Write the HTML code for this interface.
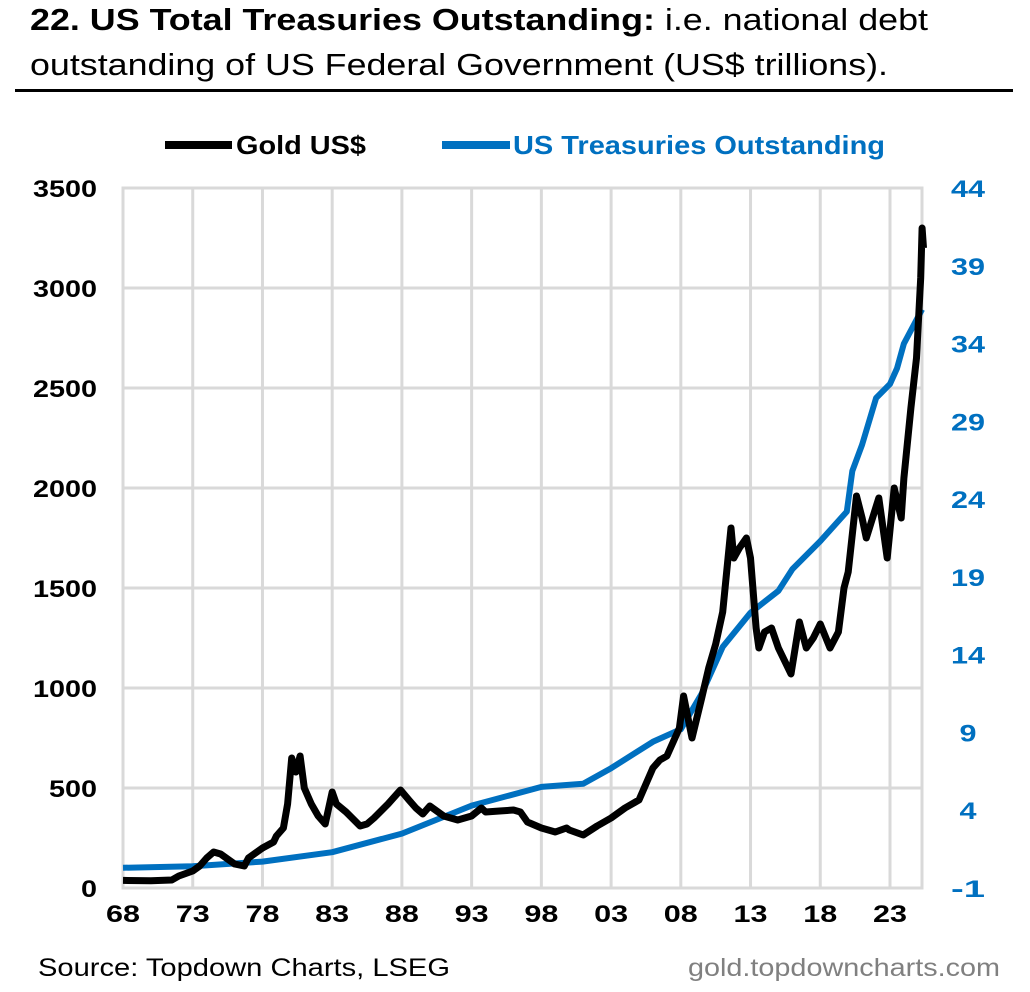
<!DOCTYPE html>
<html><head><meta charset="utf-8"><style>
body{margin:0;background:#fff;width:1030px;height:987px;overflow:hidden;font-family:"Liberation Sans",sans-serif;}
</style></head><body>
<svg id="c" width="1030" height="987" xmlns="http://www.w3.org/2000/svg">
<text x="30" y="30" font-size="31" textLength="898" lengthAdjust="spacingAndGlyphs"><tspan font-weight="bold">22. US Total Treasuries Outstanding:</tspan> i.e. national debt</text>
<text x="30" y="75" font-size="31" textLength="858" lengthAdjust="spacingAndGlyphs">outstanding of US Federal Government (US$ trillions).</text>
<rect x="15" y="89" width="998" height="3" fill="#000"/>
<g>
<line x1="165" y1="145" x2="232" y2="145" stroke="#000" stroke-width="8"/>
<text x="236" y="154" font-size="26" font-weight="bold" textLength="130" lengthAdjust="spacingAndGlyphs">Gold US$</text>
<line x1="442" y1="145" x2="510" y2="145" stroke="#0070c0" stroke-width="8"/>
<text x="513" y="154" font-size="26" font-weight="bold" fill="#0070c0" textLength="372" lengthAdjust="spacingAndGlyphs">US Treasuries Outstanding</text>
</g>
<g id="grid"></g><g id="axes"></g><g id="series"></g>
<text x="38" y="976" font-size="25" textLength="412" lengthAdjust="spacingAndGlyphs">Source: Topdown Charts, LSEG</text>
<text x="688" y="976" font-size="25" fill="#808080" textLength="312" lengthAdjust="spacingAndGlyphs">gold.topdowncharts.com</text>
</svg>
<script>
const xTickLabels=["68","73","78","83","88","93","98","03","08","13","18","23"];
const xTickYears=[1968,1973,1978,1983,1988,1993,1998,2003,2008,2013,2018,2023];
const leftTicks=[0,500,1000,1500,2000,2500,3000,3500];
const rightTicks=[-1,4,9,14,19,24,29,34,39,44];
const goldYears=[1968,1970,1971.5,1972,1973,1973.5,1974,1974.5,1975,1976,1976.7,1977,1978,1978.8,1979,1979.5,1979.8,1980.1,1980.4,1980.7,1981,1981.5,1982,1982.5,1983,1983.3,1984,1985,1985.5,1986,1987,1987.9,1988.5,1989,1989.5,1990,1991,1992,1993,1993.7,1994,1995,1996,1996.5,1997,1998,1999,1999.8,2000,2001,2002,2003,2004,2005,2006,2006.5,2007,2007.9,2008.2,2008.8,2009.5,2010,2010.5,2011,2011.6,2011.8,2012.2,2012.7,2013,2013.4,2013.6,2014,2014.5,2015,2015.9,2016.5,2017,2017.5,2018,2018.7,2019.3,2019.7,2020,2020.6,2021,2021.3,2022.2,2022.8,2023.3,2023.8,2024,2024.5,2024.9,2025.2,2025.3,2025.4];
const goldValues=[38,36,40,60,85,110,150,180,170,120,110,150,200,230,260,300,420,650,580,660,500,420,360,320,480,420,380,310,320,350,420,490,440,400,370,410,360,340,360,400,380,385,390,380,330,300,280,300,290,265,310,350,400,440,600,640,660,800,960,750,950,1100,1220,1380,1800,1650,1700,1750,1650,1300,1200,1280,1300,1200,1070,1330,1200,1250,1320,1200,1280,1500,1580,1960,1850,1750,1950,1650,2000,1850,2050,2400,2650,3050,3300,3200];
const tsyYears=[1968,1973,1978,1983,1988,1993,1998,2001,2003,2006,2008,2009.5,2011,2013,2015,2016,2018,2019.9,2020.3,2021,2022,2023,2023.5,2024,2025.3];
const tsyValues=[0.3,0.4,0.7,1.3,2.5,4.3,5.5,5.7,6.7,8.4,9.2,11.5,14.5,16.7,18.1,19.5,21.3,23.2,25.8,27.5,30.5,31.4,32.4,34,36.2];
const L=123,R=922,T=188,B=888;
const x=y=>L+(y-1968)*(890-123)/55;
const yL=v=>B-(v/3500)*(B-T);
const yR=v=>B-((v+1)/45)*(B-T);
const NS="http://www.w3.org/2000/svg";
function mk(tag,attrs,parent){const e=document.createElementNS(NS,tag);for(const k in attrs)e.setAttribute(k,attrs[k]);document.getElementById(parent).appendChild(e);return e;}
const g=mk('rect',{x:L,y:T,width:R-L,height:B-T,fill:'none',stroke:'#d9d9d9','stroke-width':3},'grid');


leftTicks.forEach(v=>{
 const l=mk('line',{x1:L,x2:R,y1:yL(v),y2:yL(v),stroke:'#d9d9d9','stroke-width':3},'grid');
 
 
 const s=String(v);
 const t=mk('text',{x:97-16*s.length,y:yL(v)+9,'font-size':24,'font-weight':'bold',textLength:16*s.length,lengthAdjust:'spacingAndGlyphs'},'axes');
 t.textContent=s;
 
 
});
xTickYears.forEach((yr,i)=>{
 const l=mk('line',{x1:x(yr),x2:x(yr),y1:T,y2:B,stroke:'#d9d9d9','stroke-width':3},'grid');
 
 
 const t=mk('text',{x:x(yr)-17,y:922,'font-size':24,'font-weight':'bold',textLength:34,lengthAdjust:'spacingAndGlyphs'},'axes');
 t.textContent=xTickLabels[i];
 
 
});
rightTicks.forEach(v=>{
 const s=String(v);
 const w=s.length===1?17:34;
 const t=mk('text',{x:968-w/2,y:yR(v)+9,'font-size':24,'font-weight':'bold',fill:'#0070c0',textLength:w,lengthAdjust:'spacingAndGlyphs'},'axes');
 t.textContent=s;
 
 
});
const tp=mk('path',{d:tsyYears.map((yr,i)=>(i?'L':'M')+x(yr).toFixed(1)+','+yR(tsyValues[i]).toFixed(1)).join(''),fill:'none',stroke:'#0070c0','stroke-width':6,'stroke-linejoin':'round'},'series');


const gp=mk('path',{d:goldYears.map((yr,i)=>(i?'L':'M')+x(yr).toFixed(1)+','+yL(goldValues[i]).toFixed(1)).join(''),fill:'none',stroke:'#000','stroke-width':7,'stroke-linejoin':'round'},'series');


</script>
</body></html>
